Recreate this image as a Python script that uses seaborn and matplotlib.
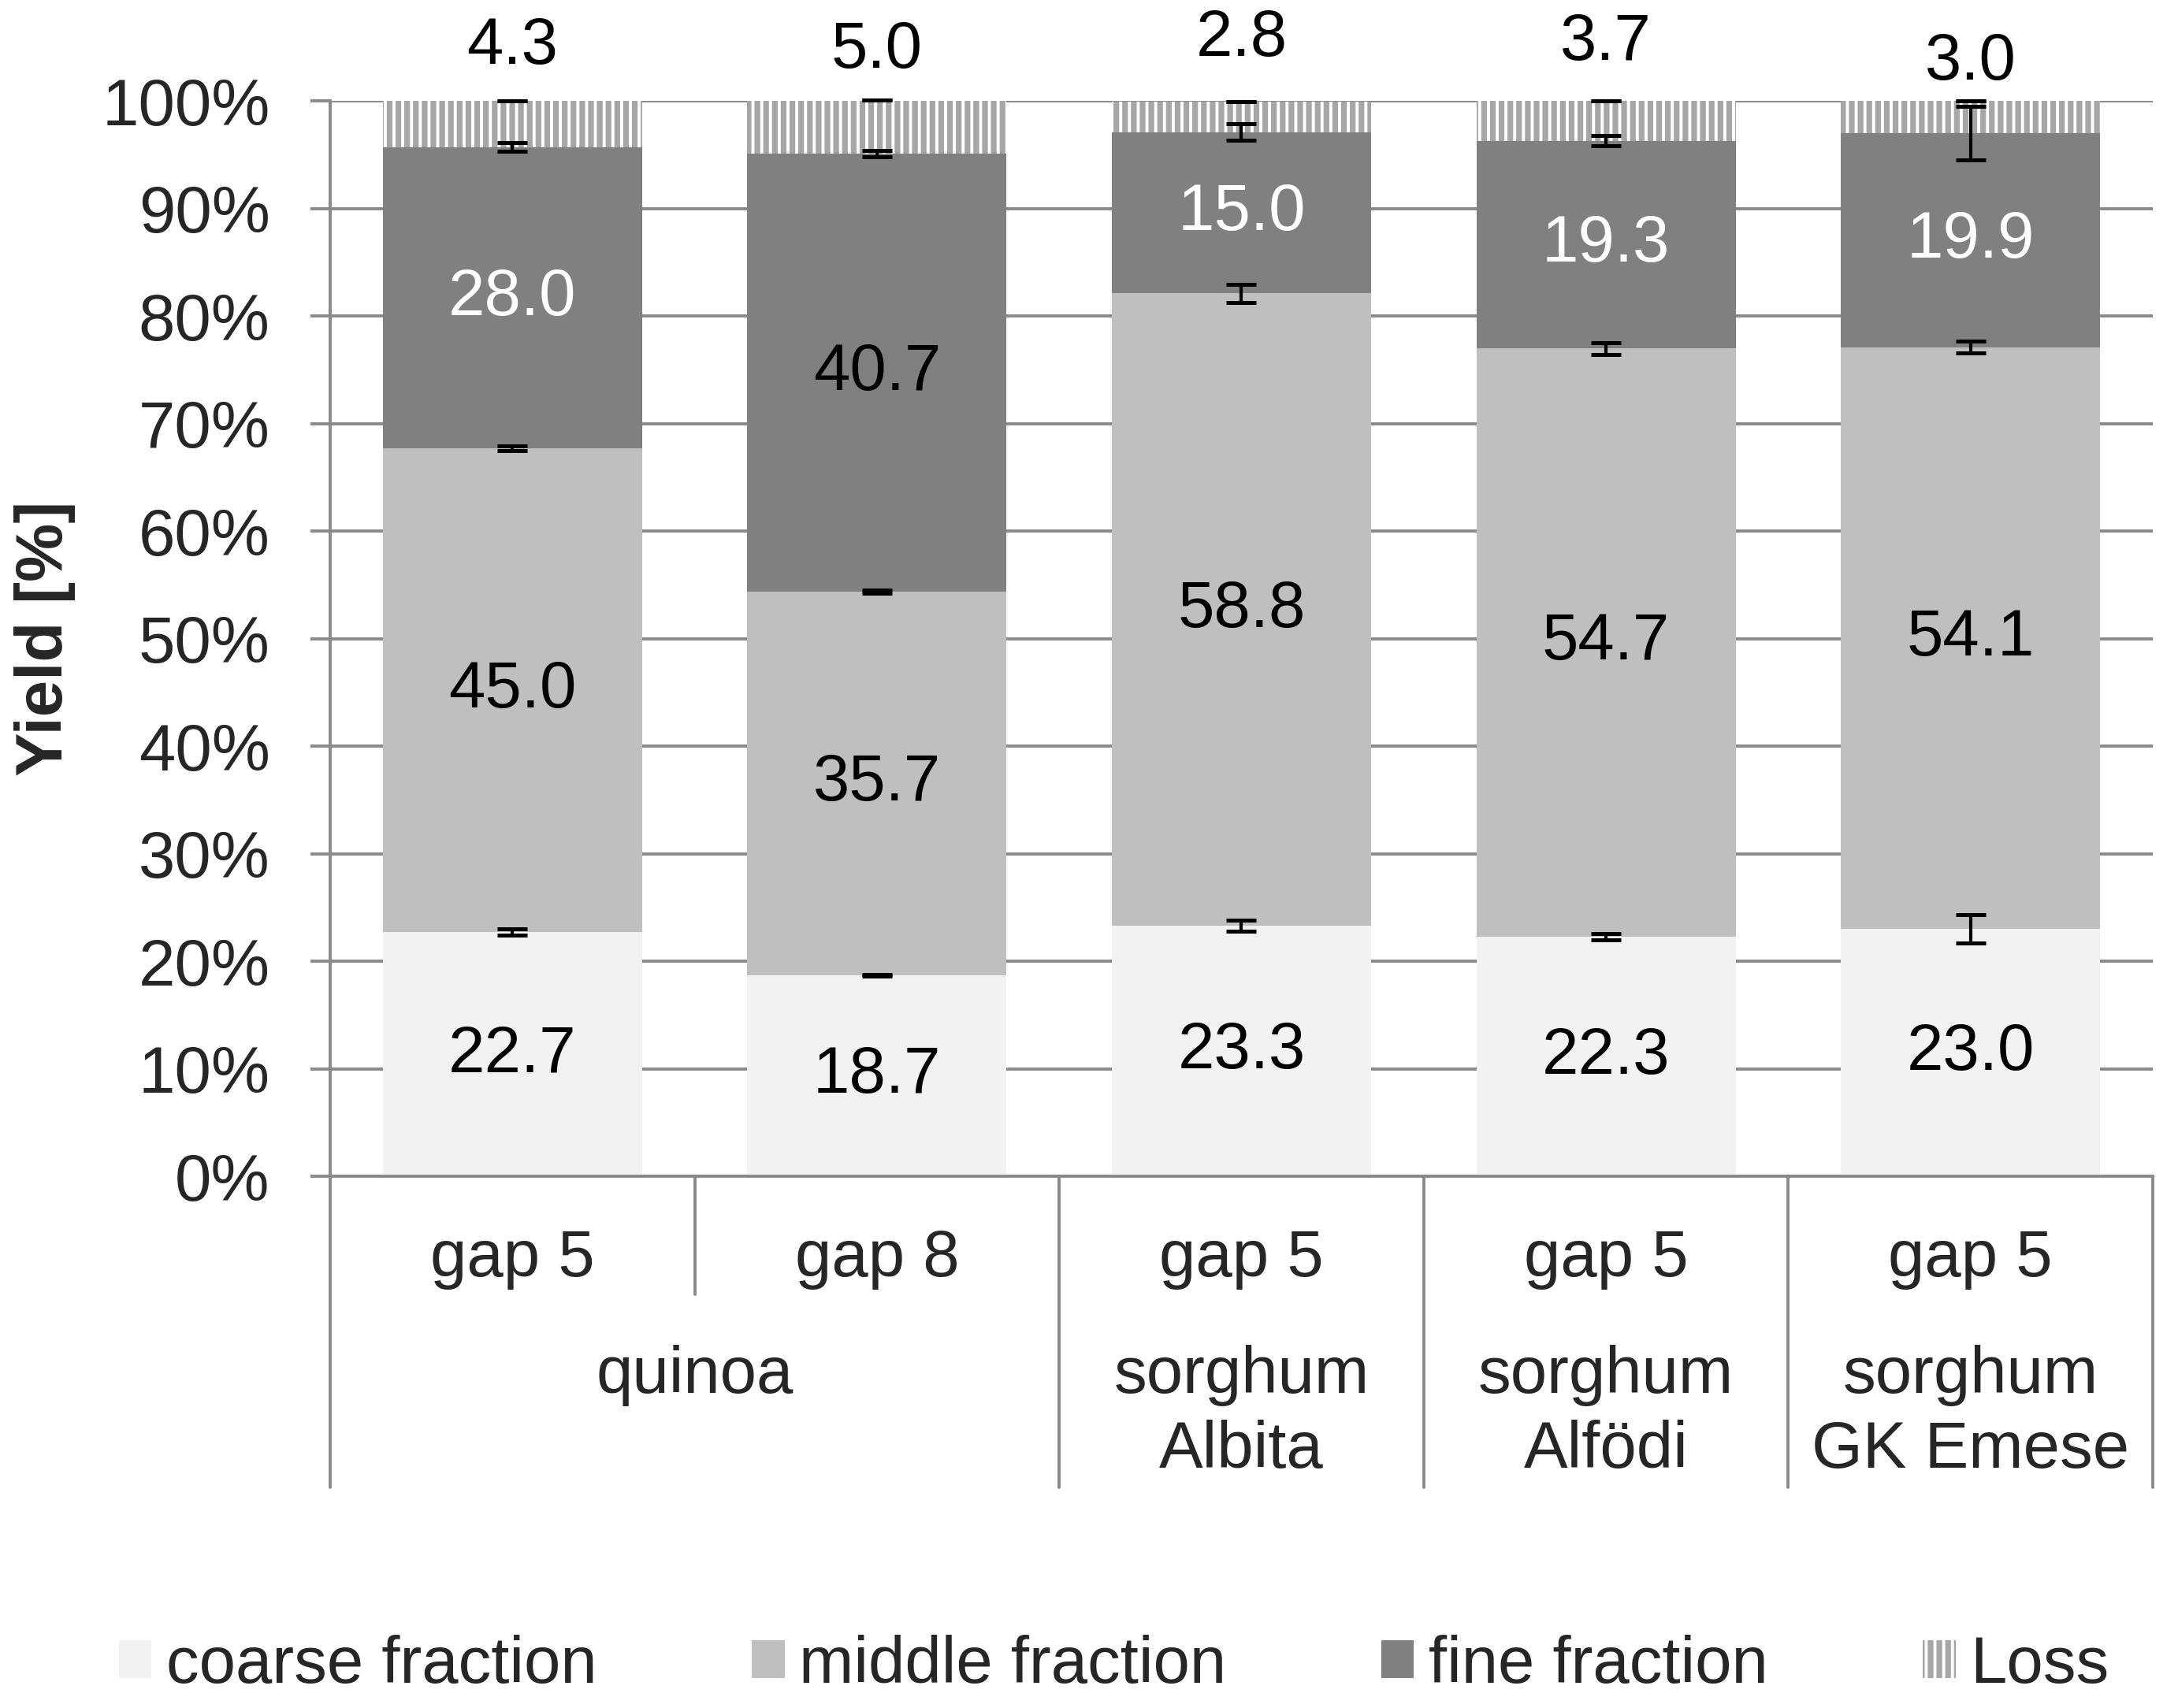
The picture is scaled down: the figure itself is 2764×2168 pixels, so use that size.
import numpy as np
import pandas as pd
import matplotlib

matplotlib.use('Agg')

import matplotlib.pyplot as plt
import seaborn as sns
from matplotlib.patches import Patch

# data
bar_ids = ['q5', 'q8', 'alb', 'alf', 'gk']
gap_labels = ['gap 5', 'gap 8', 'gap 5', 'gap 5', 'gap 5']
group_labels = [['quinoa'], ['sorghum', 'Albita'], ['sorghum', 'Alfödi'], ['sorghum', 'GK Emese']]
group_centers = [0.5, 2, 3, 4]

coarse = [22.7, 18.7, 23.3, 22.3, 23.0]
middle = [45.0, 35.7, 58.8, 54.7, 54.1]
fine = [28.0, 40.7, 15.0, 19.3, 19.9]
loss = [4.3, 5.0, 2.8, 3.7, 3.0]

# error bars (+/-) at top of each stacked segment
err_coarse = [0.3, 0.05, 0.5, 0.3, 1.3]
err_middle = [0.2, 0.15, 0.85, 0.55, 0.55]
err_fine = [0.4, 0.3, 0.75, 0.5, 2.5]
err_loss = [0.0, 0.0, 0.0, 0.0, 0.0]

fine_label_colors = ['white', 'black', 'white', 'white', 'white']
loss_label_y = [105.1, 104.7, 105.8, 105.4, 103.6]

series_names = ['coarse fraction', 'middle fraction', 'fine fraction', 'Loss']
colors = ['#f2f2f2', '#bfbfbf', '#808080', 'white']
grid_col = '#898989'
hatch_col = '#a6a6a6'

sns.set_style('white')
plt.rcParams['font.family'] = ['Liberation Sans', 'DejaVu Sans']
plt.rcParams['hatch.color'] = hatch_col
plt.rcParams['hatch.linewidth'] = 2.6

layers = np.array([coarse, middle, fine, loss])
cum = np.cumsum(layers, axis=0)
errs = [err_coarse, err_middle, err_fine, err_loss]

fig = plt.figure(figsize=(13.82, 10.84), dpi=200)
ax = fig.add_axes([0.1516, 0.3113, 0.8368, 0.6296])

bw = 0.711
# draw from the top layer down so lower segments cover the upper ones
for i in [3, 2, 1, 0]:
    df = pd.DataFrame({'bar': bar_ids, 'val': cum[i]})
    n0 = len(ax.patches)
    sns.barplot(data=df, x='bar', y='val', order=bar_ids, color=colors[i],
                width=bw, saturation=1, ax=ax, zorder=2)
    for p in ax.patches[n0:]:
        p.set_linewidth(0)
        if i == 3:
            p.set_facecolor('white')
            p.set_edgecolor(hatch_col)
            p.set_hatch('|||')

# error bars
xs = np.arange(len(bar_ids))
for i in range(4):
    ax.errorbar(xs, cum[i], yerr=errs[i], fmt='none', ecolor='black',
                elinewidth=1.5, capsize=7, capthick=1.8, clip_on=False, zorder=5)

# value labels
for j in range(len(bar_ids)):
    ax.text(j, coarse[j] / 2, f"{coarse[j]:.1f}", ha='center', va='center', fontsize=30, color='black', zorder=6)
    ax.text(j, cum[0][j] + middle[j] / 2, f"{middle[j]:.1f}", ha='center', va='center', fontsize=30, color='black', zorder=6)
    ax.text(j, cum[1][j] + fine[j] / 2, f"{fine[j]:.1f}", ha='center', va='center', fontsize=30,
            color=fine_label_colors[j], zorder=6)
    ax.text(j, loss_label_y[j], f"{loss[j]:.1f}", ha='center', va='center', fontsize=30,
            color='black', clip_on=False, zorder=6)

ax.set_xlim(-0.5, 4.5)
ax.set_ylim(0, 100)
ax.set_yticks(np.arange(0, 101, 10))
ax.set_yticklabels([f"{t}%" for t in range(0, 101, 10)])
ax.yaxis.grid(True, color=grid_col, lw=1.4)
ax.set_axisbelow(True)
ax.tick_params(axis='y', length=9, width=1.4, color=grid_col, pad=18.5, labelsize=30, left=True)
ax.tick_params(axis='x', bottom=False, labelbottom=False)
ax.set_xlabel('')
ax.set_ylabel('Yield [%]', fontsize=30, fontweight='bold', labelpad=12)

for s in ['top', 'right']:
    ax.spines[s].set_visible(False)
for s in ['left', 'bottom']:
    ax.spines[s].set_color(grid_col)
    ax.spines[s].set_linewidth(1.4)

# multi-level category axis
trans = ax.get_xaxis_transform()
for x in [-0.5, 1.5, 2.5, 3.5, 4.5]:
    ax.plot([x, x], [0, -0.289], transform=trans, color=grid_col, lw=1.4, clip_on=False)
ax.plot([0.5, 0.5], [0, -0.11], transform=trans, color=grid_col, lw=1.4, clip_on=False)

for j, lab in enumerate(gap_labels):
    ax.text(j, -0.093, lab, transform=trans, ha='center', va='baseline', fontsize=30)
for c, lines in zip(group_centers, group_labels):
    for k, line in enumerate(lines):
        ax.text(c, -0.2015 - k * 0.0695, line, transform=trans, ha='center', va='baseline', fontsize=30)

handles = [Patch(facecolor=colors[0], lw=0), Patch(facecolor=colors[1], lw=0),
           Patch(facecolor=colors[2], lw=0),
           Patch(facecolor='white', edgecolor=hatch_col, hatch='|||', lw=0)]
fig.legend(handles, series_names, loc='center', bbox_to_anchor=(0.5114, 0.025), ncol=4,
           frameon=False, fontsize=30, handlelength=0.5, handleheight=0.5,
           handletextpad=0.22, columnspacing=2.36, borderpad=0)

fig.savefig('out.png', dpi=200)
